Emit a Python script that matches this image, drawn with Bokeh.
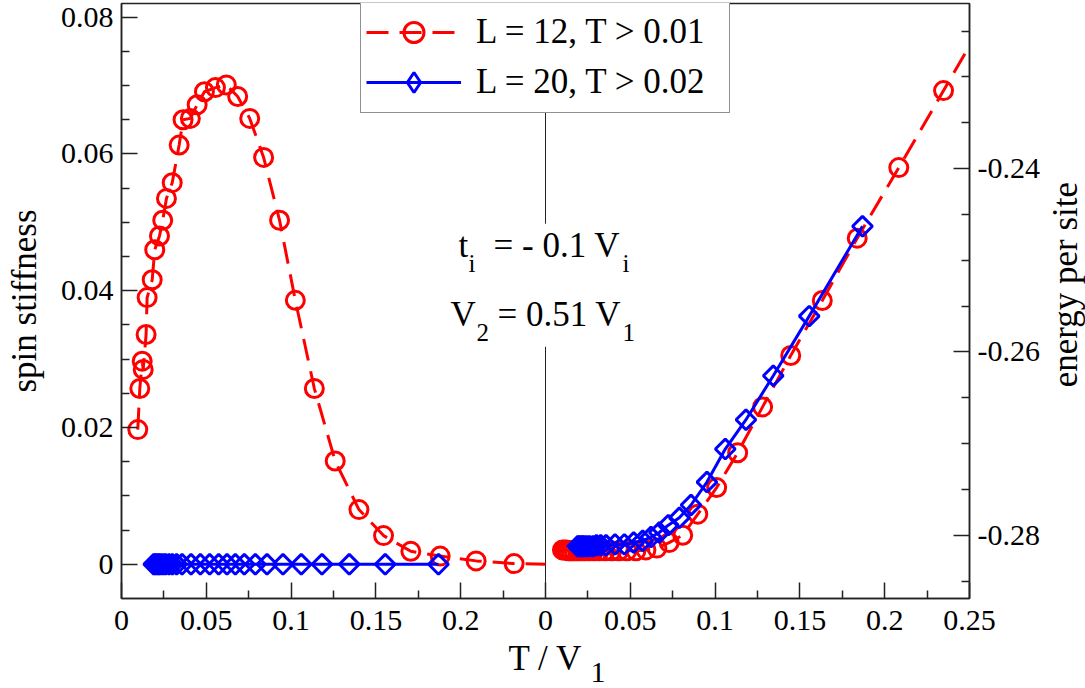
import numpy as np
from bokeh.plotting import figure
from bokeh.layouts import row, column
from bokeh.models import (Range1d, LinearAxis, FixedTicker, CustomJSTickFormatter,
                          Legend, LegendItem, Span, BoxAnnotation, Label)
from bokeh.embed import file_html
from bokeh.resources import INLINE

FONT = "Liberation Serif"
RED = "#ff0000"
BLUE = "#0000ff"
INK = "#222222"

# ---------------- data ----------------
# left half: spin stiffness vs T / V1, L = 12 (last point lies beyond the half's edge)
T12_stiff = [0.0096, 0.0108, 0.0122, 0.0128, 0.0145, 0.0151, 0.0181, 0.0196, 0.0224,
             0.0243, 0.0265, 0.0299, 0.0340, 0.0363, 0.0406, 0.0446, 0.0489, 0.0554,
             0.0618, 0.0685, 0.0756, 0.0838, 0.0932, 0.1025, 0.1137, 0.1260, 0.1400,
             0.1545, 0.1706, 0.1879, 0.2091, 0.2315, 0.2565]
S12 = [0.0197, 0.0257, 0.0297, 0.0285, 0.0336, 0.0390, 0.0416, 0.0460, 0.0480,
       0.0503, 0.0535, 0.0558, 0.0613, 0.0650, 0.0652, 0.0672, 0.0691, 0.0697,
       0.0701, 0.0684, 0.0652, 0.0595, 0.0503, 0.0386, 0.0257, 0.0151, 0.0080,
       0.0042, 0.0019, 0.0012, 0.0005, 0.0001, 0.0000]

# left half: spin stiffness, L = 20
T20_stiff = [0.0190, 0.0200, 0.0210, 0.0220, 0.0230, 0.0245, 0.0260, 0.0280, 0.0300,
             0.0325, 0.0357, 0.0410, 0.0465, 0.0520, 0.0573, 0.0622, 0.0671, 0.0724,
             0.0789, 0.0858, 0.0952, 0.1060, 0.1182, 0.1343, 0.1555, 0.1869]
S20 = [0.0, 0.0, 0.0, 0.0, 0.0, 0.0, 0.0, 0.0, 0.0,
       0.0, 0.0, 0.0, 0.0, 0.0, 0.0, 0.0, 0.0, 0.0,
       0.0, 0.0, 0.0, 0.0, 0.0, 0.0, 0.0, 0.0]

# right half: energy per site vs T / V1, L = 12 (last point lies beyond the frame)
T12_energy = [0.0100, 0.0111, 0.0124, 0.0137, 0.0152, 0.0169, 0.0188, 0.0208, 0.0231,
              0.0257, 0.0285, 0.0316, 0.0351, 0.0390, 0.0433, 0.0480, 0.0533, 0.0592,
              0.0657, 0.0729, 0.0809, 0.0898, 0.1009, 0.1133, 0.1280, 0.1446, 0.1632,
              0.1838, 0.2083, 0.2347, 0.2645]
E12 = [-0.2816, -0.2816, -0.2816, -0.2817, -0.2817, -0.2817, -0.2817, -0.2817, -0.2817,
       -0.2817, -0.2817, -0.2817, -0.2817, -0.2817, -0.2817, -0.2817, -0.2817, -0.2816,
       -0.2814, -0.2808, -0.2800, -0.2777, -0.2748, -0.2710, -0.2660, -0.2604, -0.2544,
       -0.2476, -0.2399, -0.2315, -0.2220]

# right half: energy per site, L = 20
T20_energy = [0.0190, 0.0200, 0.0210, 0.0220, 0.0230, 0.0245, 0.0260, 0.0280, 0.0300,
              0.0325, 0.0357, 0.0410, 0.0465, 0.0520, 0.0573, 0.0622, 0.0671, 0.0724,
              0.0789, 0.0858, 0.0952, 0.1060, 0.1182, 0.1343, 0.1555, 0.1869]
E20 = [-0.2812, -0.2812, -0.2812, -0.2812, -0.2812, -0.2812, -0.2812, -0.2812, -0.2811,
       -0.2811, -0.2811, -0.2810, -0.2810, -0.2808, -0.2806, -0.2802, -0.2797, -0.2789,
       -0.2781, -0.2767, -0.2742, -0.2706, -0.2674, -0.2626, -0.2561, -0.2463]

LABEL_12 = "L = 12, T > 0.01"
LABEL_20 = "L = 20, T > 0.02"

# axis ticks
x_ticks = [0.0, 0.05, 0.1, 0.15, 0.2, 0.25, 0.3, 0.35, 0.4, 0.45, 0.5]
x_minor = [0.025, 0.075, 0.125, 0.175, 0.225, 0.275, 0.325, 0.375, 0.425, 0.475]
stiff_ticks = [0.0, 0.02, 0.04, 0.06, 0.08]
stiff_minor = [0.005, 0.01, 0.015, 0.025, 0.03, 0.035, 0.045, 0.05, 0.055,
               0.065, 0.07, 0.075]
energy_ticks = [-0.28, -0.26, -0.24]
energy_minor = [-0.285, -0.275, -0.27, -0.265, -0.255, -0.25, -0.245,
                -0.235, -0.23, -0.225]

X_SPLIT = 0.25  # where the right half's T axis starts

MAIN_W, MAIN_H = 1042, 636

# ---------------- main figure ----------------
fig = figure(width=MAIN_W, height=MAIN_H, output_backend="svg", toolbar_location=None,
             x_range=Range1d(0, 0.5), y_range=Range1d(-0.005, 0.082),
             min_border_left=121, min_border_right=71, min_border_top=3,
             min_border_bottom=38, title=None)
fig.extra_y_ranges = {"energy": Range1d(-0.2869, -0.2220)}
fig.xgrid.visible = False
fig.ygrid.visible = False
fig.background_fill_color = "white"
fig.border_fill_color = "white"
fig.outline_line_color = INK
fig.outline_line_width = 1.5


def style_axis(ax, standoff):
    ax.major_label_text_font = FONT
    ax.major_label_text_font_size = "30px"
    ax.major_label_text_color = "black"
    ax.axis_label_text_font = FONT
    ax.axis_label_text_font_size = "35px"
    ax.axis_label_text_font_style = "normal"
    ax.axis_label_text_color = "black"
    ax.major_tick_in = 16
    ax.major_tick_out = 0
    ax.minor_tick_in = 8
    ax.minor_tick_out = 0
    ax.axis_line_color = INK
    ax.axis_line_width = 1.5
    ax.major_tick_line_color = INK
    ax.major_tick_line_width = 1.5
    ax.minor_tick_line_color = INK
    ax.minor_tick_line_width = 1.5
    ax.major_label_standoff = standoff


xax = fig.xaxis[0]
style_axis(xax, 12)
xax.ticker = FixedTicker(ticks=x_ticks, minor_ticks=x_minor)
xax.formatter = CustomJSTickFormatter(args=dict(split=X_SPLIT), code="""
let v = tick;
if (v > split - 1e-6) { v = v - split; }
return String(Math.round(v * 100) / 100);
""")

yax = fig.yaxis[0]
style_axis(yax, 8)
yax.ticker = FixedTicker(ticks=stiff_ticks, minor_ticks=stiff_minor)
yax.formatter = CustomJSTickFormatter(code="return String(Math.round(tick * 1000) / 1000);")
yax.axis_label = "spin stiffness"
yax.axis_label_standoff = 14

rax = LinearAxis(y_range_name="energy")
style_axis(rax, 8)
rax.ticker = FixedTicker(ticks=energy_ticks, minor_ticks=energy_minor)
rax.formatter = CustomJSTickFormatter(code="return String(Math.round(tick * 1000) / 1000);")
fig.add_layout(rax, "right")

# divider between the two halves, masked behind the parameter text
fig.add_layout(Span(location=X_SPLIT, dimension="height", line_color=INK,
                    line_width=1, level="underlay"))
fig.add_layout(BoxAnnotation(left=0.245, right=0.255, bottom=0.0318, top=0.0498,
                             fill_color="white", fill_alpha=1.0, line_alpha=0,
                             level="underlay"))

# ---------------- series ----------------
Ts = np.array(T12_stiff)
Ss = np.array(S12)
keep = Ts <= X_SPLIT
r12_line = fig.line(np.append(Ts[keep], X_SPLIT),
                    np.append(Ss[keep], np.interp(X_SPLIT, Ts, Ss)),
                    line_color=RED, line_width=3, line_dash="22 11")
r12_pts = fig.scatter(Ts[keep], Ss[keep], marker="circle", size=18,
                      fill_color=None, line_color=RED, line_width=3)

xe12 = X_SPLIT + np.array(T12_energy)
fig.line(xe12, E12, y_range_name="energy", line_color=RED, line_width=3,
         line_dash="22 11")
fig.scatter(xe12, E12, y_range_name="energy", marker="circle", size=18,
            fill_color=None, line_color=RED, line_width=3)

r20_line = fig.line(T20_stiff, S20, line_color=BLUE, line_width=3)
fig.scatter(T20_stiff, S20, marker="square", angle=np.pi / 4, size=14,
            fill_color=None, line_color=BLUE, line_width=3)
# zero-size diamonds: invisible in the plot, give the legend an unrotated diamond key
r20_key = fig.scatter(T20_stiff, S20, marker="diamond", size=0, fill_color=None,
                      line_color=BLUE, line_width=3)

xe20 = X_SPLIT + np.array(T20_energy)
fig.line(xe20, E20, y_range_name="energy", line_color=BLUE, line_width=3)
fig.scatter(xe20, E20, y_range_name="energy", marker="square", angle=np.pi / 4,
            size=14, fill_color=None, line_color=BLUE, line_width=3)

legend = Legend(items=[LegendItem(label=LABEL_12, renderers=[r12_line, r12_pts]),
                       LegendItem(label=LABEL_20, renderers=[r20_line, r20_key])],
                location=(239, 485), orientation="vertical", margin=0,
                padding=5, spacing=0, glyph_width=95, glyph_height=50,
                label_height=50, label_width=248, label_standoff=15,
                label_text_font=FONT, label_text_font_size="35px",
                label_text_color="black",
                border_line_color=INK, border_line_width=1.5,
                background_fill_color="white", background_fill_alpha=1.0)
fig.add_layout(legend)


# ---------------- texts ----------------
# Labels are anchored on the middle of their text box; lift each by about a third of
# its font size so that the given y is (close to) the text's baseline.
def add_text(target, text, x, y, dx=0, dy=0, size=35, **kw):
    opts = dict(text_align="left", text_baseline="alphabetic")
    opts.update(kw)
    target.add_layout(Label(x=x, y=y, x_offset=dx, y_offset=dy, text=text,
                            text_font=FONT, text_font_size=f"{size}px",
                            text_color="black", **opts))


y_line1 = 0.04486
y_line2 = 0.03477
add_text(fig, "t", X_SPLIT, y_line1, -87, 12)
add_text(fig, "i", X_SPLIT, y_line1, -77, -6, 25)
add_text(fig, "= - 0.1 V", X_SPLIT, y_line1, -52, 12)
add_text(fig, "i", X_SPLIT, y_line1, 77, -6, 25)
add_text(fig, "V", X_SPLIT, y_line2, -95, 12)
add_text(fig, "2", X_SPLIT, y_line2, -69, -6, 25)
add_text(fig, "= 0.51 V", X_SPLIT, y_line2, -48, 12)
add_text(fig, "1", X_SPLIT, y_line2, 77, -6, 25)


def text_strip(w, h):
    s = figure(width=w, height=h, output_backend="svg", toolbar_location=None,
               x_range=Range1d(0, w), y_range=Range1d(0, h), title=None,
               x_axis_location=None, y_axis_location=None, min_border=0,
               min_border_left=0, min_border_right=0, min_border_top=0,
               min_border_bottom=0)
    s.outline_line_color = None
    s.background_fill_color = "white"
    s.border_fill_color = "white"
    s.grid.visible = False
    return s


# right-hand title strip: "energy per site", reading bottom to top
right_strip = text_strip(1085 - MAIN_W, MAIN_H)
add_text(right_strip, "energy per site", 23, MAIN_H - 300.5, angle=np.pi / 2,
         text_align="center")

# bottom strip: x-axis title  T / V1
bottom_strip = text_strip(1085, 688 - MAIN_H)
add_text(bottom_strip, "T / V", 545, 30, text_align="center")
add_text(bottom_strip, "1", 590, 16, size=30)

p = column(row(fig, right_strip, spacing=0), bottom_strip, spacing=0)

open("out.html", "w").write(file_html(p, INLINE))
